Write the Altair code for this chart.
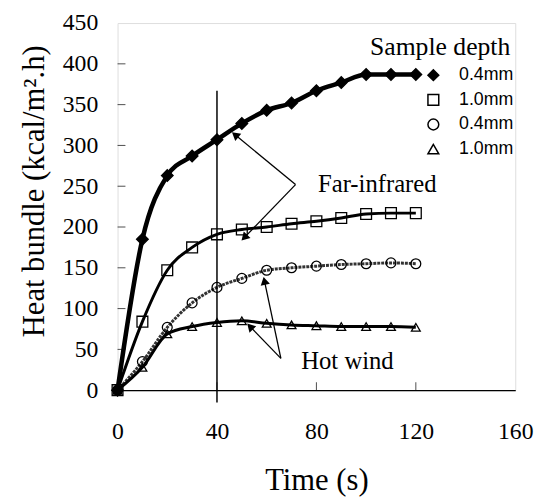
import math
import altair as alt
import pandas as pd

# ---- data ----
time = [0, 10, 20, 30, 40, 50, 60, 70, 80, 90, 100, 110, 120]
fir_04 = [0, 185, 263, 287, 307, 327, 343, 352, 367, 377, 387, 387, 387]
fir_10 = [0, 84, 147, 175, 191, 197, 200, 204, 207, 211, 216, 217, 217]
hw_04 = [0, 35, 77, 107, 126, 137, 147, 150, 152, 154, 155, 156, 155]
hw_10 = [0, 28, 69, 78, 83, 85, 82, 80, 79, 78, 78, 78, 77]

series_names = ["Far-infrared 0.4mm", "Far-infrared 1.0mm", "Hot wind 0.4mm", "Hot wind 1.0mm"]
legend_labels = ["0.4mm", "1.0mm", "0.4mm", "1.0mm"]
series_values = [fir_04, fir_10, hw_04, hw_10]
shapes = ["diamond", "square", "circle", "triangle-up"]
fills = ["black", "transparent", "transparent", "transparent"]
sizes = [140, 80, 64, 75]

x_ticks = [0, 40, 80, 120, 160]
y_ticks = [0, 50, 100, 150, 200, 250, 300, 350, 400, 450]

# annotation geometry (data coordinates)
ann_text = ["Far-infrared", "Hot wind", "Sample depth"]
ann_x = [104.5, 92.5, 158.0]
ann_y = [252, 36, 420]
ann_align = ["center", "center", "right"]
ann_size = [25, 25, 26]
arrow_from_x = [71.6, 71.6, 65.7, 65.7]
arrow_from_y = [252, 252, 39, 39]
arrow_to_x = [47.3, 51.0, 59.1, 53.3]
arrow_to_y = [313, 187, 134, 78]
vline_x = [40]
vline_y = [-15]
vline_y2 = [367]

W, H = 403, 372
XMAX, YMAX = 160, 450

rows = []
for name, vals in zip(series_names, series_values):
    for t, v in zip(time, vals):
        rows.append({"series": name, "time": t, "value": v})
df = pd.DataFrame(rows)

xs = alt.Scale(domain=[0, XMAX], nice=False)
ys = alt.Scale(domain=[0, YMAX], nice=False)

serif = "Liberation Serif"
sans = "Liberation Sans"

x_enc = alt.X("time:Q", scale=xs, axis=alt.Axis(
    values=x_ticks, title="Time (s)", grid=False, ticks=False, domain=True,
    domainColor="black", domainWidth=1.2,
    labelFont=serif, labelFontSize=24, labelColor="black", labelPadding=30,
    labelFlush=False,
    titleFont=serif, titleFontSize=31, titleFontWeight="normal", titleColor="black",
    titlePadding=23))
y_enc = alt.Y("value:Q", scale=ys, axis=alt.Axis(
    values=y_ticks, title="Heat bundle (kcal/m².h)", grid=False, ticks=False,
    domain=False,
    labelFont=serif, labelFontSize=24, labelColor="black", labelPadding=20,
    labelFlush=False,
    titleFont=serif, titleFontSize=31, titleFontWeight="normal", titleColor="black",
    titlePadding=12, titleY=170))

base = alt.Chart(df)

line_styles = {
    "Far-infrared 0.4mm": dict(strokeWidth=4.6, color="black"),
    "Far-infrared 1.0mm": dict(strokeWidth=3.0, color="black"),
    "Hot wind 0.4mm": dict(strokeWidth=3.0, color="#333333", strokeDash=[3, 1]),
    "Hot wind 1.0mm": dict(strokeWidth=3.0, color="black"),
}

lines = []
for name in series_names:
    lines.append(
        base.transform_filter(alt.datum.series == name)
        .mark_line(interpolate="monotone", **line_styles[name])
        .encode(x=x_enc, y=y_enc)
    )

shape_scale = alt.Scale(domain=series_names, range=shapes)
fill_scale = alt.Scale(domain=series_names, range=fills)
size_scale = alt.Scale(domain=series_names, range=sizes)

points = base.mark_point(stroke="black", strokeWidth=1.3, opacity=1, fillOpacity=1).encode(
    x="time:Q",
    y="value:Q",
    shape=alt.Shape("series:N", scale=shape_scale, legend=None),
    fill=alt.Fill("series:N", scale=fill_scale, legend=None),
    size=alt.Size("series:N", scale=size_scale, legend=None),
)

ann_df = pd.DataFrame({"text": ann_text, "x": ann_x, "y": ann_y, "align": ann_align})
texts = []
for t, x, y, a, s in zip(ann_text, ann_x, ann_y, ann_align, ann_size):
    texts.append(
        alt.Chart(ann_df[ann_df.text == t]).mark_text(
            font=serif, fontSize=s, color="black", align=a, baseline="middle"
        ).encode(x="x:Q", y="y:Q", text="text:N")
    )

# arrows
arr_rows = []
for fx, fy, tx, ty in zip(arrow_from_x, arrow_from_y, arrow_to_x, arrow_to_y):
    dx = (tx - fx) * W / XMAX
    dy = -(ty - fy) * H / YMAX  # screen y down
    ang = math.degrees(math.atan2(dx, -dy)) % 360
    arr_rows.append({"fx": fx, "fy": fy, "tx": tx, "ty": ty, "ang": ang})
arr_df = pd.DataFrame(arr_rows)

arrow_lines = alt.Chart(arr_df).mark_rule(color="black", strokeWidth=1.3).encode(
    x="fx:Q", y="fy:Q", x2="tx:Q", y2="ty:Q")
arrow_heads = alt.Chart(arr_df).mark_point(
    shape="triangle-up", filled=True, color="black", size=90, opacity=1
).encode(x="tx:Q", y="ty:Q", angle=alt.Angle("ang:Q", scale=None))

vline = alt.Chart(pd.DataFrame({"x": vline_x, "y": vline_y, "y2": vline_y2})).mark_rule(
    color="black", strokeWidth=1.5).encode(x="x:Q", y="y:Q", y2="y2:Q")

# inner tick marks
ytk = alt.Chart(pd.DataFrame({"v": y_ticks[1:-1]})).mark_tick(
    orient="horizontal", color="black", thickness=1, size=8).encode(
    y="v:Q", x=alt.value(4))
xtk = alt.Chart(pd.DataFrame({"v": x_ticks[1:-1]})).mark_tick(
    orient="vertical", color="black", thickness=1, size=8).encode(
    x="v:Q", y=alt.value(H - 4))

main = alt.layer(*lines, vline, arrow_lines, arrow_heads, points, *texts, ytk, xtk)

# legend (drawn as a small layer of its own, rows on a point scale)
leg_df = pd.DataFrame({"series": series_names, "label": legend_labels})
leg_y = alt.Y("series:N", scale=alt.Scale(type="point", domain=series_names,
                                          range=[52.8, 127.8], padding=0), axis=None)
leg_sym = alt.Chart(leg_df).mark_point(stroke="black", strokeWidth=1.5, opacity=1,
                                       fillOpacity=1, size=120).encode(
    x=alt.value(320), y=leg_y,
    shape=alt.Shape("series:N", scale=shape_scale, legend=None),
    fill=alt.Fill("series:N", scale=fill_scale, legend=None),
)
leg_txt = alt.Chart(leg_df).mark_text(font=sans, fontSize=18, color="black",
                                      align="right", baseline="middle").encode(
    x=alt.value(401), y=leg_y, text="label:N")
leg = alt.layer(leg_sym, leg_txt)

chart = alt.layer(main, leg).resolve_scale(y="independent").properties(
    width=W, height=H,
    autosize=alt.AutoSizeParams(type="none"),
    padding={"left": 111, "top": 12, "right": 20, "bottom": 105},
).configure_view(
    stroke="black", strokeDash=[1.5, 1.5], strokeWidth=1.2
).configure(background="white")

chart.save("out.html", embed_options={"renderer": "svg", "actions": False})
